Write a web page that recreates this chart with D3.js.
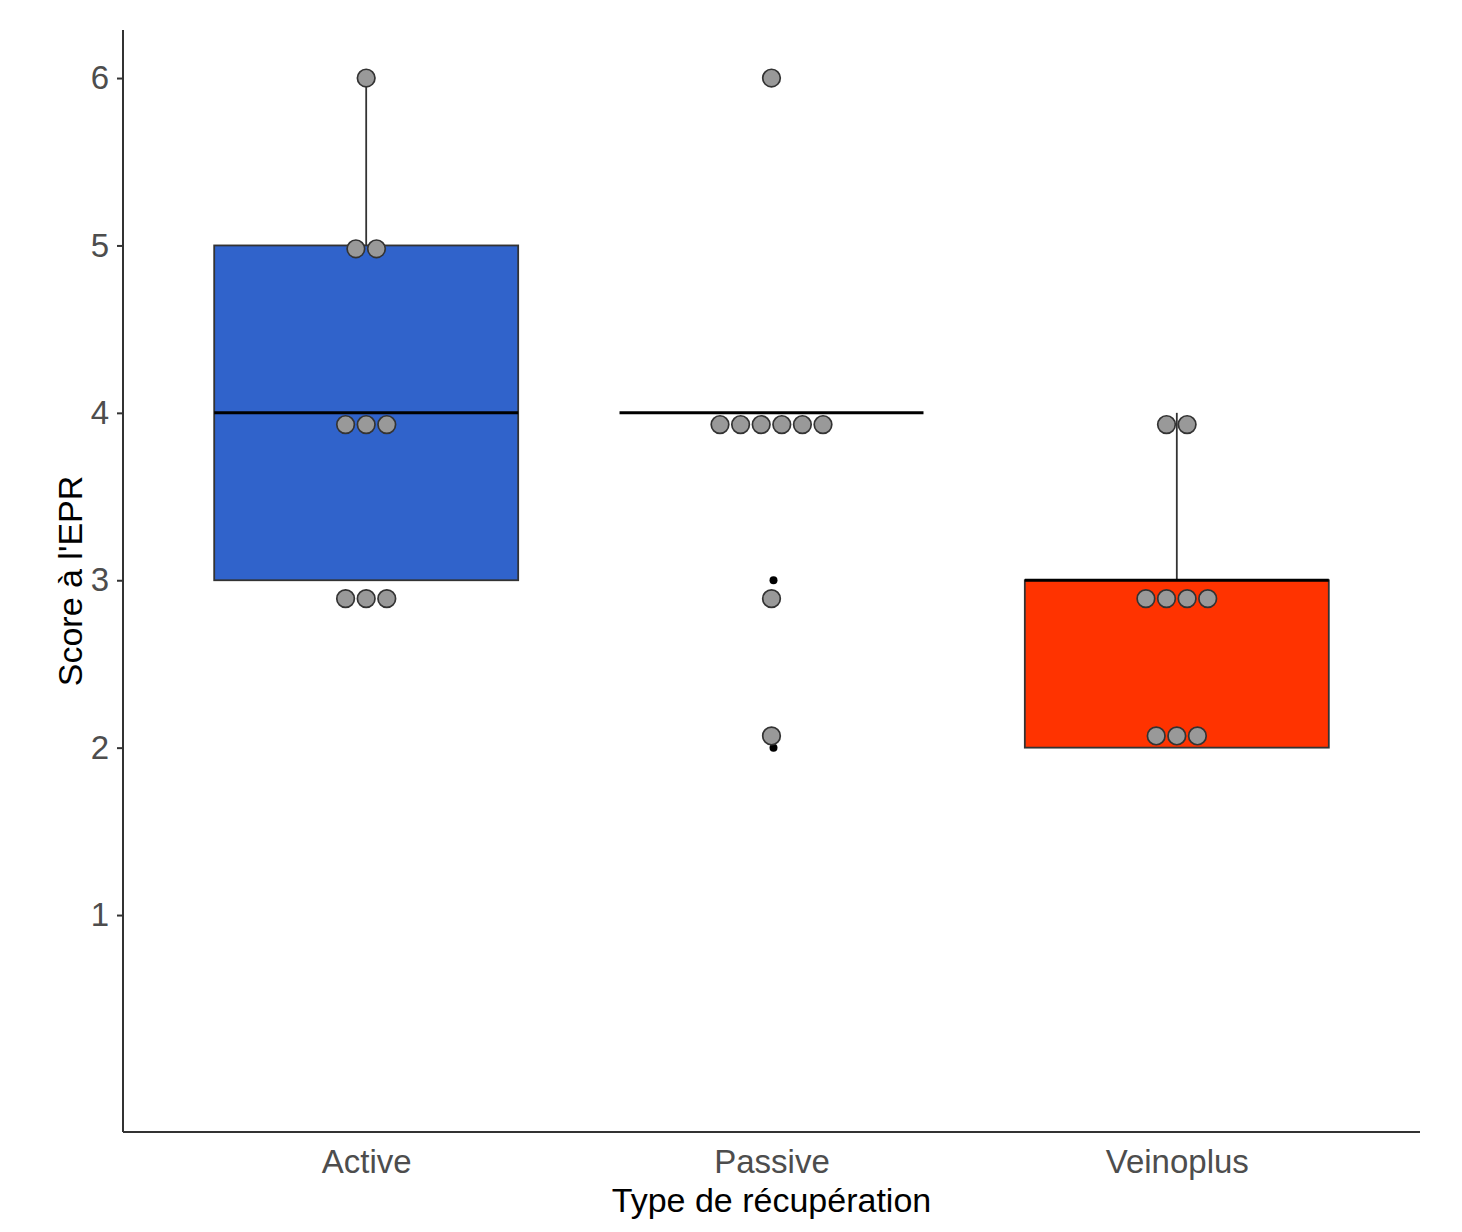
<!DOCTYPE html>
<html>
<head>
<meta charset="utf-8">
<script src="https://cdn.jsdelivr.net/npm/d3@7"></script>
<style>
  html, body { margin: 0; padding: 0; background: #fff; }
  svg { display: block; font-family: "Liberation Sans", Arial, sans-serif; }
</style>
</head>
<body>
<svg id="chart" width="1462" height="1232"></svg>
<script>
// Recovery types on the x axis
const categories = ["Active", "Passive", "Veinoplus"];
const boxFills = ["#3063CB", null, "#FF3300"];

// Individual EPR scores per recovery type
const activeScores = [3, 3, 3, 4, 4, 4, 5, 5, 6];
const passiveScores = [2, 3, 4, 4, 4, 4, 4, 4, 6];
const veinoplusScores = [2, 2, 2, 3, 3, 3, 3, 4, 4];

// Dot-plot bins: score level and the centre of the bin it is stacked in
const scoreLevels = [6, 5, 4, 3, 2];
const dotBinCentres = [6.0, 4.98, 3.93, 2.89, 2.07];

const yTicks = [1, 2, 3, 4, 5, 6];

const groups = [activeScores, passiveScores, veinoplusScores];

const svg = d3.select("#chart");
const plotLeft = 123, plotRight = 1420, plotTop = 30, plotBottom = 1132;

const x = d3.scalePoint().domain(categories).range([plotLeft, plotRight]).padding(0.6);
const y = d3.scaleLinear().domain([-0.296, 6.287]).range([plotBottom, plotTop]);
const boxW = x.step() * 0.75;

const binOf = v => dotBinCentres[scoreLevels.indexOf(v)];

// Box plots
groups.forEach((vals, i) => {
  const s = vals.slice().sort(d3.ascending);
  const q1 = d3.quantile(s, 0.25), med = d3.quantile(s, 0.5), q3 = d3.quantile(s, 0.75);
  const iqr = q3 - q1;
  const lo = d3.min(s.filter(v => v >= q1 - 1.5 * iqr));
  const hi = d3.max(s.filter(v => v <= q3 + 1.5 * iqr));
  const outliers = s.filter(v => v < lo || v > hi);
  const cx = x(categories[i]);
  const g = svg.append("g");

  g.append("line").attr("x1", cx).attr("x2", cx).attr("y1", y(q3)).attr("y2", y(hi))
    .attr("stroke", "#333").attr("stroke-width", 1.8);
  g.append("line").attr("x1", cx).attr("x2", cx).attr("y1", y(q1)).attr("y2", y(lo))
    .attr("stroke", "#333").attr("stroke-width", 1.8);

  g.append("rect")
    .attr("x", cx - boxW / 2).attr("width", boxW)
    .attr("y", y(q3)).attr("height", Math.max(0, y(q1) - y(q3)))
    .attr("fill", boxFills[i] || "#ffffff")
    .attr("stroke", "#333").attr("stroke-width", 1.8);

  g.append("line").attr("x1", cx - boxW / 2).attr("x2", cx + boxW / 2)
    .attr("y1", y(med)).attr("y2", y(med))
    .attr("stroke", "#000").attr("stroke-width", 3);

  g.selectAll("circle.out").data(outliers).join("circle")
    .attr("class", "out")
    .attr("cx", cx + 2).attr("cy", d => y(d)).attr("r", 4)
    .attr("fill", "#000");
});

// Centred dot stacks
const dotGap = 20.6;
groups.forEach((vals, i) => {
  const cx = x(categories[i]);
  const counts = d3.rollups(vals, v => v.length, d => d);
  const dots = [];
  counts.forEach(([score, n]) => {
    for (let k = 0; k < n; k++) {
      dots.push({ score, offset: (k - (n - 1) / 2) * dotGap });
    }
  });
  svg.append("g").selectAll("circle").data(dots).join("circle")
    .attr("cx", d => cx + d.offset)
    .attr("cy", d => y(binOf(d.score)))
    .attr("r", 8.8)
    .attr("fill", "#999999")
    .attr("stroke", "#333")
    .attr("stroke-width", 1.7);
});

// Axes
const yAxis = svg.append("g").attr("transform", `translate(${plotLeft},0)`)
  .call(d3.axisLeft(y).tickValues(yTicks).tickSize(6).tickPadding(8).tickFormat(d3.format("d")));
yAxis.select(".domain").attr("d", `M0,${plotTop}V${plotBottom}`).attr("stroke", "#333").attr("stroke-width", 2);
yAxis.selectAll(".tick line").attr("stroke", "#333").attr("stroke-width", 2);
yAxis.selectAll(".tick text").attr("fill", "#4D4D4D").style("font-size", "33px");

const xAxis = svg.append("g").attr("transform", `translate(0,${plotBottom})`)
  .call(d3.axisBottom(x).tickSize(0).tickPadding(18));
xAxis.select(".domain").attr("d", `M${plotLeft},0H${plotRight}`).attr("stroke", "#333").attr("stroke-width", 2);
xAxis.selectAll(".tick text").attr("fill", "#4D4D4D").style("font-size", "33px").attr("dy", "0.71em");

// Axis titles
svg.append("text")
  .attr("x", (plotLeft + plotRight) / 2).attr("y", 1212)
  .attr("text-anchor", "middle").attr("fill", "#000")
  .style("font-size", "34px")
  .text("Type de récupération");

svg.append("text")
  .attr("transform", `translate(82,${(plotTop + plotBottom) / 2}) rotate(-90)`)
  .attr("text-anchor", "middle").attr("fill", "#000")
  .style("font-size", "34px")
  .text("Score à l'EPR");
</script>
</body>
</html>
